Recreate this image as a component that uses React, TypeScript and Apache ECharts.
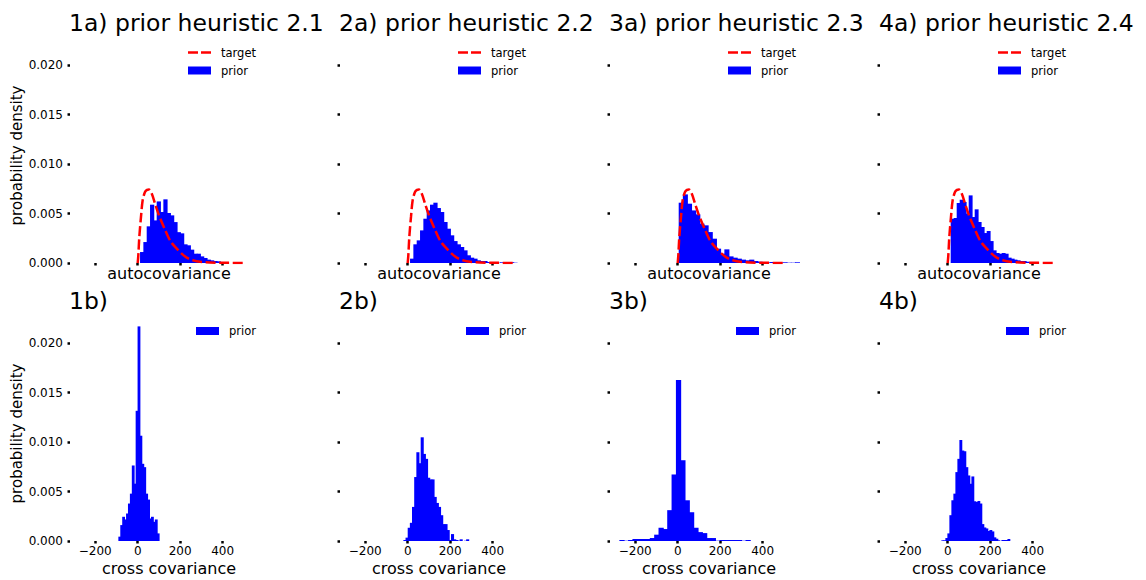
import React, { useEffect, useRef } from "react";
import * as echarts from "echarts";

const topTitles = ["1a) prior heuristic 2.1", "2a) prior heuristic 2.2", "3a) prior heuristic 2.3", "4a) prior heuristic 2.4"];
const bottomTitles = ["1b)", "2b)", "3b)", "4b)"];
const xTickValues = [-200, 0, 200, 400];
const yTickValues = [0, 0.005, 0.01, 0.015, 0.02];

// target density curve (autocovariance)
const targetX = [0, 3, 7.6, 15.5, 23.4, 34.4, 44, 53, 66, 81.6, 97.3, 113, 128.6, 144, 160, 184, 207, 231, 262, 294, 340, 400, 460, 510];
const targetY = [0, 0.0008, 0.00263, 0.00466, 0.00635, 0.00719, 0.0074, 0.00743, 0.00702, 0.00601, 0.005, 0.00415, 0.00338, 0.00263, 0.00203, 0.00145, 0.00095, 0.00054, 0.00027, 0.00012, 0.00005, 0.00002, 0.00001, 0.00001];

// prior histograms, autocovariance (top row)
const auto1Start = 11, auto1Width = 15.7;
const auto1Density = [0.00111, 0.00212, 0.00371, 0.0059, 0.00431, 0.00623, 0.00516, 0.00644, 0.00506, 0.00482, 0.00414, 0.00312, 0.003, 0.00189, 0.00179, 0.00135, 0.00094, 0.00094, 0.00067, 0.00051, 0.00034, 0.00027, 0.0002, 0.00017, 0.0001, 0.0001];
const auto2Start = 11, auto2Width = 15.7;
const auto2Density = [0.00044, 0.00189, 0.00229, 0.0033, 0.00448, 0.00532, 0.0059, 0.0061, 0.00556, 0.00516, 0.00415, 0.00347, 0.0028, 0.00222, 0.00189, 0.00162, 0.00128, 0.00078, 0.00054, 0.00044, 0.00027, 0.0002, 0.0002, 0.0001, 0.00007, 0.0001, 0.00003, 0.00007, 0.00003, 0.00003, 0.00007, 0.00003];
const auto3Start = 4.7, auto3Width = 19.56;
const auto3Density = [0.0061, 0.00694, 0.006, 0.00532, 0.00492, 0.00398, 0.00381, 0.00313, 0.00246, 0.00145, 0.00094, 0.00138, 0.00067, 0.00054, 0.00044, 0.00034, 0.00027, 0.00034, 0.0002, 0.00013, 0.0001, 0.00007, 0.0001, 0.00007, 0.00003, 0.00007, 0.00003, 0.00003, 0.00007];
const auto4Start = 14.1, auto4Width = 14.14;
const auto4Density = [0.00448, 0.00455, 0.00607, 0.0064, 0.00617, 0.00499, 0.00684, 0.00465, 0.00543, 0.00415, 0.00364, 0.00303, 0.00324, 0.00222, 0.00128, 0.00101, 0.00094, 0.00101, 0.00094, 0.00054, 0.00044, 0.00034, 0.00027, 0.0002, 0.0002, 0.00013, 0.0001, 0.00007];

// prior histograms, cross covariance (bottom row)
const cross1Start = -91.1, cross1Width = 9.05;
const cross1Density = [0.00044, 0.00161, 0.00245, 0.00218, 0.00278, 0.00379, 0.00479, 0.00764, 0.0058, 0.01317, 0.02171, 0.01065, 0.00781, 0.00747, 0.00479, 0.00419, 0.00228, 0.00245, 0.00194, 0.00218, 0.00077];
const cross2Start = -20.4, cross2Width = 10.2;
const cross2Density = [0.0001, 0.00034, 0.00134, 0.00184, 0.00345, 0.00647, 0.00898, 0.00787, 0.01049, 0.00881, 0.00831, 0.0064, 0.00623, 0.00623, 0.00446, 0.00385, 0.00345, 0.00261, 0.00171, 0.00171, 0.00111, 0.0001, 0.0007, 0.00017, 0.0001, 0.00003, 0.00017, 0, 0.00003, 0.00017];
const cross3Start = -274.9, cross3Width = 20.5;
const cross3Density = [0.0001, 0.00003, 0.0001, 0.0002, 0.0002, 0.0002, 0.0002, 0.0003, 0.00064, 0.00134, 0.00121, 0.00312, 0.00673, 0.01628, 0.00817, 0.00412, 0.00291, 0.00134, 0.0009, 0.0008, 0.0003, 0.0003, 0.00003, 0.0001, 0.0001, 0.0001, 0.0001, 0.0001, 0.00003, 0.0001];
const cross4Start = -29.8, cross4Width = 9.43;
const cross4Density = [0.00007, 0.00007, 0.0003, 0.00077, 0.00261, 0.00412, 0.00479, 0.00697, 0.00831, 0.01022, 0.00915, 0.00908, 0.00747, 0.00663, 0.00579, 0.00653, 0.00402, 0.00395, 0.00405, 0.00379, 0.00171, 0.00137, 0.00127, 0.00101, 0.00111, 0.00097, 0.00037, 0.00023, 0.00007, 0, 0.0001, 0.0001, 0.0001, 0.0002];

const X_MIN = -319;
const X_MAX = 614;
const Y_MAX = 0.02175;

const FONT = "DejaVu Sans";

function histData(start: number, width: number, dens: number[]) {
  return dens.map((d, i) => [start + i * width, start + (i + 1) * width, d]);
}

const topHists = [
  histData(auto1Start, auto1Width, auto1Density),
  histData(auto2Start, auto2Width, auto2Density),
  histData(auto3Start, auto3Width, auto3Density),
  histData(auto4Start, auto4Width, auto4Density),
];
const bottomHists = [
  histData(cross1Start, cross1Width, cross1Density),
  histData(cross2Start, cross2Width, cross2Density),
  histData(cross3Start, cross3Width, cross3Density),
  histData(cross4Start, cross4Width, cross4Density),
];

const renderBar = (params: any, api: any) => {
  const p0 = api.coord([api.value(0), api.value(2)]);
  const p1 = api.coord([api.value(1), 0]);
  return {
    type: "rect",
    shape: { x: p0[0], y: p0[1], width: p1[0] - p0[0] + 0.9, height: p1[1] - p0[1] },
    style: { fill: "#0000ff" },
  };
};

const DASH_ICON = "path://M0,0H10V2.5H0Z M13,0H23V2.5H13Z";

export default function App() {
  const ref = useRef<HTMLDivElement>(null);
  useEffect(() => {
    if (!ref.current) return;
    const chart = echarts.init(ref.current, null, { renderer: "svg" });
    const grids: any[] = [];
    const xAxes: any[] = [];
    const yAxes: any[] = [];
    const series: any[] = [];
    const titles: any[] = [];
    const legends: any[] = [];
    const GL = 70, GW = 198, STEP = 270;
    for (let row = 0; row < 2; row++) {
      for (let col = 0; col < 4; col++) {
        const k = row * 4 + col;
        const left = GL + STEP * col;
        grids.push({ left, top: row === 0 ? 48 : 326, width: GW, height: 215 });
        xAxes.push({
          type: "value",
          gridIndex: k,
          min: X_MIN,
          max: X_MAX,
          name: row === 0 ? "autocovariance" : "cross covariance",
          nameLocation: "middle",
          nameGap: row === 0 ? 2 : 19,
          nameTextStyle: { fontFamily: FONT, fontSize: 16, color: "#000", verticalAlign: "top" },
          axisLine: { show: false, onZero: false },
          axisTick: { show: true, length: 2.5, lineStyle: { color: "#000", width: 2.5 }, customValues: xTickValues },
          axisLabel: {
            show: row === 1,
            customValues: xTickValues,
            margin: 4,
            fontFamily: FONT,
            fontSize: 12,
            color: "#000",
            formatter: (v: number) => (v < 0 ? "\u2212" + Math.abs(v) : String(v)),
          },
          splitLine: { show: false },
        });
        yAxes.push({
          type: "value",
          gridIndex: k,
          min: 0,
          max: Y_MAX,
          name: col === 0 ? "probability density" : "",
          nameLocation: "middle",
          nameRotate: 90,
          nameGap: 43,
          nameTextStyle: { fontFamily: FONT, fontSize: 15, color: "#000" },
          axisLine: { show: false, onZero: false },
          axisTick: { show: true, length: 2.5, lineStyle: { color: "#000", width: 2.5 }, customValues: yTickValues },
          axisLabel: {
            show: col === 0,
            customValues: yTickValues,
            margin: 7,
            fontFamily: FONT,
            fontSize: 12,
            color: "#000",
            formatter: (v: number) => v.toFixed(3),
          },
          splitLine: { show: false },
        });
        series.push({
          type: "custom",
          name: "prior",
          xAxisIndex: k,
          yAxisIndex: k,
          renderItem: renderBar,
          encode: { x: [0, 1], y: 2 },
          data: row === 0 ? topHists[col] : bottomHists[col],
          itemStyle: { color: "#0000ff" },
          clip: true,
          z: 2,
        });
        if (row === 0) {
          series.push({
            type: "line",
            name: "target",
            xAxisIndex: k,
            yAxisIndex: k,
            data: targetX.map((x, i) => [x, targetY[i]]),
            symbol: "none",
            smooth: 0.3,
            color: "#ff0000",
            lineStyle: { color: "#ff0000", width: 2.5, type: [10, 3.5] },
            z: 3,
          });
        }
        titles.push({
          text: row === 0 ? topTitles[col] : bottomTitles[col],
          left: left - 6,
          top: row === 0 ? 6 : 284,
          textStyle: { fontFamily: FONT, fontSize: 23.5, fontWeight: "normal", color: "#000" },
        });
        legends.push({
          orient: "vertical",
          left: row === 0 ? left + 113 : left + 121,
          top: row === 0 ? 41.5 : 320,
          itemWidth: 23,
          itemHeight: 8,
          itemGap: 6,
          selectedMode: false,
          data:
            row === 0
              ? [
                  {
                    name: "target",
                    icon: DASH_ICON,
                    itemStyle: { color: "#ff0000" },
                    lineStyle: { width: 0, opacity: 0 },
                  },
                  { name: "prior", icon: "rect" },
                ]
              : [{ name: "prior", icon: "rect" }],
          textStyle: { fontFamily: FONT, fontSize: 11.5, color: "#000", padding: [0, 0, 0, 5] },
        });
      }
    }
    chart.setOption({
      animation: false,
      backgroundColor: "#ffffff",
      title: titles,
      legend: legends,
      grid: grids,
      xAxis: xAxes,
      yAxis: yAxes,
      series,
    });
    return () => chart.dispose();
  }, []);
  return <div ref={ref} style={{ position: "fixed", left: 0, top: 0, width: 1146, height: 580 }} />;
}
